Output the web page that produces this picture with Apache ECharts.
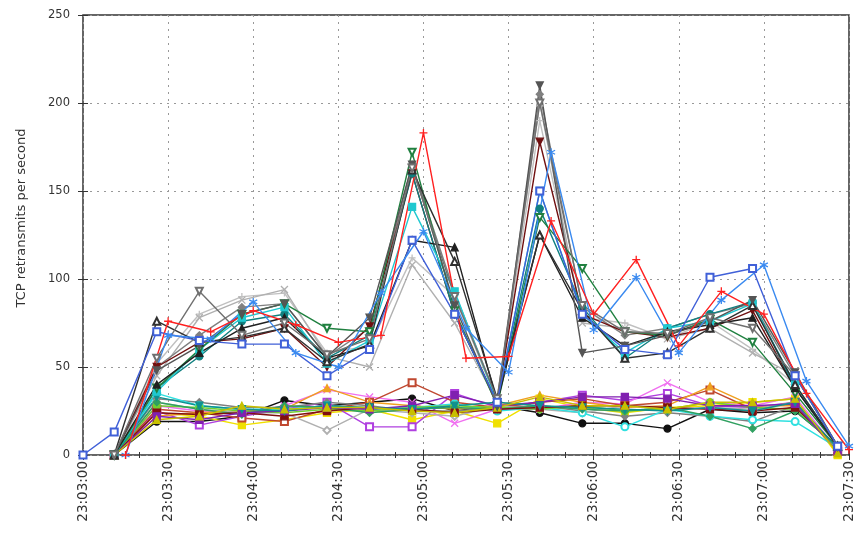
<!DOCTYPE html>
<html>
<head>
<meta charset="utf-8">
<script src="https://cdn.jsdelivr.net/npm/echarts@6/dist/echarts.min.js"></script>
<style>
html,body{margin:0;padding:0;background:#fff;}
#chart{width:856px;height:538px;}
</style>
</head>
<body>
<div id="chart"></div>
<script>
// ---- tick labels (x axis) ----
var tickLabels = ['23:03:00','23:03:30','23:04:00','23:04:30','23:05:00','23:05:30','23:06:00','23:06:30','23:07:00','23:07:30'];
var yTitle = 'TCP retransmits per second';
// ---- sample times ----
var timesA = ['23:03:11','23:03:26','23:03:41','23:03:56','23:04:11','23:04:26','23:04:41','23:04:56','23:05:11','23:05:26','23:05:41','23:05:56','23:06:11','23:06:26','23:06:41','23:06:56','23:07:11','23:07:26'];
var timesB = ['23:03:15','23:03:30','23:03:45','23:04:00','23:04:15','23:04:30','23:04:45','23:05:00','23:05:15','23:05:30','23:05:45','23:06:00','23:06:15','23:06:30','23:06:45','23:07:00','23:07:15','23:07:30'];
var timesC = ['23:03:00','23:03:11','23:03:26','23:03:41','23:03:56','23:04:11','23:04:26','23:04:41','23:04:56','23:05:11','23:05:26','23:05:41','23:05:56','23:06:11','23:06:26','23:06:41','23:06:56','23:07:11','23:07:26'];

// ---- busy hosts (upper group) ----
var uRed       = [0, 76, 70, 82, 74, 64, 68, 183, 55, 56, 133, 80, 111, 62, 93, 80, 35, 3];
var uBlueStar  = [0, 68, 66, 87, 58, 50, 92, 127, 72, 47, 172, 71, 101, 58, 88, 108, 42, 5];
var uBlue      = [0, 13, 70, 65, 63, 63, 45, 60, 122, 80, 30, 150, 80, 60, 57, 101, 106, 45, 5];
var uGrayTri   = [0, 55, 93, 68, 75, 57, 66, 163, 90, 32, 200, 85, 70, 69, 78, 72, 45, 5];
var uDarkTri   = [0, 48, 62, 80, 86, 56, 78, 165, 85, 28, 210, 58, 62, 68, 76, 88, 47, 5];
var uBlackTri  = [0, 76, 64, 67, 72, 53, 63, 162, 110, 32, 125, 82, 55, 58, 72, 85, 40, 5];
var uBlackFill = [0, 40, 58, 72, 78, 55, 62, 122, 118, 30, 125, 78, 62, 70, 74, 78, 38, 5];
var uGreen     = [0, 38, 60, 80, 86, 72, 70, 172, 82, 28, 135, 106, 70, 68, 77, 64, 35, 5];
var uTeal      = [0, 36, 60, 78, 84, 52, 65, 141, 93, 30, 150, 80, 58, 72, 76, 86, 40, 5];
var uTealDot   = [0, 38, 56, 76, 80, 55, 68, 160, 80, 30, 140, 84, 55, 72, 80, 87, 38, 5];
var uSilver    = [0, 45, 78, 88, 94, 56, 50, 108, 75, 30, 200, 75, 72, 66, 72, 58, 45, 5];
var uBrown     = [0, 50, 64, 66, 72, 50, 73, 160, 80, 30, 178, 80, 70, 67, 72, 82, 38, 5];
var uGray      = [0, 50, 68, 84, 86, 56, 72, 165, 92, 32, 205, 84, 68, 72, 80, 86, 45, 5];
var uLightGray = [0, 52, 80, 90, 92, 58, 62, 112, 90, 30, 190, 78, 75, 66, 76, 60, 40, 5];

// ---- quiet hosts (lower group) ----
var lBlack     = [0, 19, 19, 22, 31, 28, 30, 32, 25, 28, 24, 18, 18, 15, 26, 24, 25, 5];
var lYellow    = [0, 24, 22, 17, 20, 24, 26, 20, 25, 18, 32, 27, 24, 27, 28, 30, 32, 0];
var lViolet    = [0, 25, 17, 22, 26, 30, 16, 16, 35, 27, 30, 34, 31, 35, 28, 27, 30, 3];
var lPink      = [0, 28, 25, 24, 28, 37, 33, 30, 18, 26, 26, 30, 29, 41, 30, 28, 33, 3];
var lSienna    = [0, 26, 24, 21, 19, 26, 30, 41, 30, 27, 30, 32, 28, 30, 37, 26, 30, 2];
var lOrange    = [0, 22, 24, 25, 26, 38, 30, 28, 26, 28, 34, 30, 27, 28, 39, 28, 28, 2];
var lGrayDia   = [0, 32, 30, 27, 27, 30, 28, 25, 25, 27, 28, 25, 22, 24, 22, 19, 28, 3];
var lLightDia  = [0, 30, 26, 24, 24, 14, 26, 24, 22, 28, 26, 24, 28, 26, 27, 26, 30, 2];
var lCyan      = [0, 35, 28, 26, 26, 28, 26, 27, 29, 25, 27, 24, 16, 26, 22, 20, 19, 4];
var lLime      = [0, 28, 27, 25, 24, 26, 25, 27, 28, 27, 26, 28, 25, 26, 30, 27, 26, 4];
var lSeaGreen  = [0, 30, 26, 23, 28, 27, 24, 26, 27, 26, 28, 26, 25, 27, 22, 15, 25, 5];
var lDarkRed   = [0, 24, 23, 24, 22, 25, 27, 26, 24, 26, 27, 28, 28, 27, 26, 25, 27, 5];
var lPurple    = [0, 22, 20, 24, 25, 27, 26, 28, 34, 28, 30, 33, 33, 32, 28, 28, 29, 2];
var lTeal      = [0, 33, 28, 26, 25, 28, 27, 26, 28, 30, 28, 27, 26, 25, 27, 25, 30, 4];
var lGold      = [0, 20, 22, 28, 26, 27, 27, 25, 24, 27, 33, 28, 28, 26, 30, 30, 32, 1];

var PLUS = 'path://M5,0V10M0,5H10';
var CROSS = 'path://M0,0L10,10M0,10L10,0';
var STAR = 'path://M5,0V10M0.7,2.5L9.3,7.5M0.7,7.5L9.3,2.5';

function sec(t){ var p=t.split(':'); return (+p[0]-23)*3600 + (+p[1]-3)*60 + (+p[2]); }
function mk(name, times, vals, color, symbol, rot, size){
  return {
    name: name, type: 'line',
    data: vals.map(function(v,i){ return [sec(times[i]), v]; }),
    symbol: symbol, symbolSize: size || 7, symbolRotate: rot || 0,
    lineStyle: {color: color, width: 1.4},
    itemStyle: {color: color, borderColor: color, borderWidth: 1.3},
    emphasis: {disabled: true},
    z: 2
  };
}

var series = [
  mk('lBlack', timesA, lBlack, '#111111', 'circle'),
  mk('lYellow', timesA, lYellow, '#f0e000', 'rect'),
  mk('lViolet', timesA, lViolet, '#b040e0', 'emptyRect'),
  mk('lPink', timesA, lPink, '#f070f0', CROSS),
  mk('lSienna', timesA, lSienna, '#c04830', 'emptyRect'),
  mk('lOrange', timesA, lOrange, '#f0a020', 'triangle'),
  mk('lGrayDia', timesA, lGrayDia, '#808080', 'diamond'),
  mk('lLightDia', timesA, lLightDia, '#b0b0b0', 'emptyDiamond'),
  mk('lCyan', timesA, lCyan, '#30e0e0', 'emptyCircle'),
  mk('lLime', timesA, lLime, '#70d030', 'circle'),
  mk('lSeaGreen', timesA, lSeaGreen, '#30a060', 'diamond'),
  mk('lDarkRed', timesA, lDarkRed, '#801010', 'rect'),
  mk('lPurple', timesA, lPurple, '#8020b0', 'rect'),
  mk('lTeal', timesA, lTeal, '#109090', 'triangle', 180),
  mk('lGold', timesA, lGold, '#c8c000', 'triangle'),
  mk('uLightGray', timesA, uLightGray, '#c0c0c0', PLUS),
  mk('uSilver', timesA, uSilver, '#b0b0b0', CROSS),
  mk('uGray', timesA, uGray, '#808080', 'diamond'),
  mk('uBrown', timesA, uBrown, '#701010', 'triangle', 180),
  mk('uTealDot', timesA, uTealDot, '#108080', 'circle'),
  mk('uTeal', timesA, uTeal, '#20c8d0', 'rect'),
  mk('uGreen', timesA, uGreen, '#208040', 'emptyTriangle', 180),
  mk('uBlackFill', timesA, uBlackFill, '#202020', 'triangle'),
  mk('uBlackTri', timesA, uBlackTri, '#303030', 'emptyTriangle'),
  mk('uDarkTri', timesA, uDarkTri, '#555555', 'triangle', 180),
  mk('uGrayTri', timesA, uGrayTri, '#707070', 'emptyTriangle', 180),
  mk('uBlue', timesC, uBlue, '#4060d8', 'emptyRect'),
  mk('uBlueStar', timesB, uBlueStar, '#3a8af0', STAR, 0, 8),
  mk('uRed', timesB, uRed, '#ff2020', PLUS, 0, 8)
];

var chart = echarts.init(document.getElementById('chart'));
chart.setOption({
  animation: false,
  backgroundColor: '#fff',
  grid: {left: 83, right: 6, top: 15, bottom: 83, show: true, borderColor: '#333', borderWidth: 1.5, backgroundColor: 'transparent'},
  graphic: [{
    type: 'text', x: 22, y: 218, rotation: Math.PI / 2,
    style: {text: yTitle, fontFamily: 'DejaVu Sans', fontSize: 13, fill: '#333', align: 'center', verticalAlign: 'middle'}
  }],
  xAxis: [{
    type: 'value', min: 0, max: 270, interval: 30,
    axisLine: {show: false},
    axisTick: {show: true, inside: true, length: 5, lineStyle: {color: '#333'}},
    minorTick: {show: true, splitNumber: 3, length: 3, lineStyle: {color: '#333'}},
    axisLabel: {rotate: 90, margin: 6, fontFamily: 'DejaVu Sans', fontSize: 13.5, color: '#333',
      formatter: function(v){ return tickLabels[Math.round(v/30)]; }},
    splitLine: {show: true, lineStyle: {color: '#999', type: [2, 5], width: 1}}
  }, {
    type: 'value', min: 0, max: 270, interval: 30, position: 'top',
    axisLine: {show: false},
    axisTick: {show: true, inside: true, length: 5, lineStyle: {color: '#333'}},
    minorTick: {show: true, splitNumber: 3, length: 3, lineStyle: {color: '#333'}},
    axisLabel: {show: false}, splitLine: {show: false}
  }],
  yAxis: [{
    type: 'value', min: 0, max: 250, interval: 50,
    axisLine: {show: false},
    axisTick: {show: true, inside: true, length: 5, lineStyle: {color: '#333'}},
    axisLabel: {margin: 13, fontFamily: 'DejaVu Sans', fontSize: 11.5, color: '#333'},
    splitLine: {show: true, lineStyle: {color: '#999', type: [2, 5], width: 1}}
  }, {
    type: 'value', min: 0, max: 250, interval: 50, position: 'right',
    axisLine: {show: false},
    axisTick: {show: true, inside: true, length: 5, lineStyle: {color: '#333'}},
    axisLabel: {show: false}, splitLine: {show: false}
  }],
  series: series
});
</script>
</body>
</html>
